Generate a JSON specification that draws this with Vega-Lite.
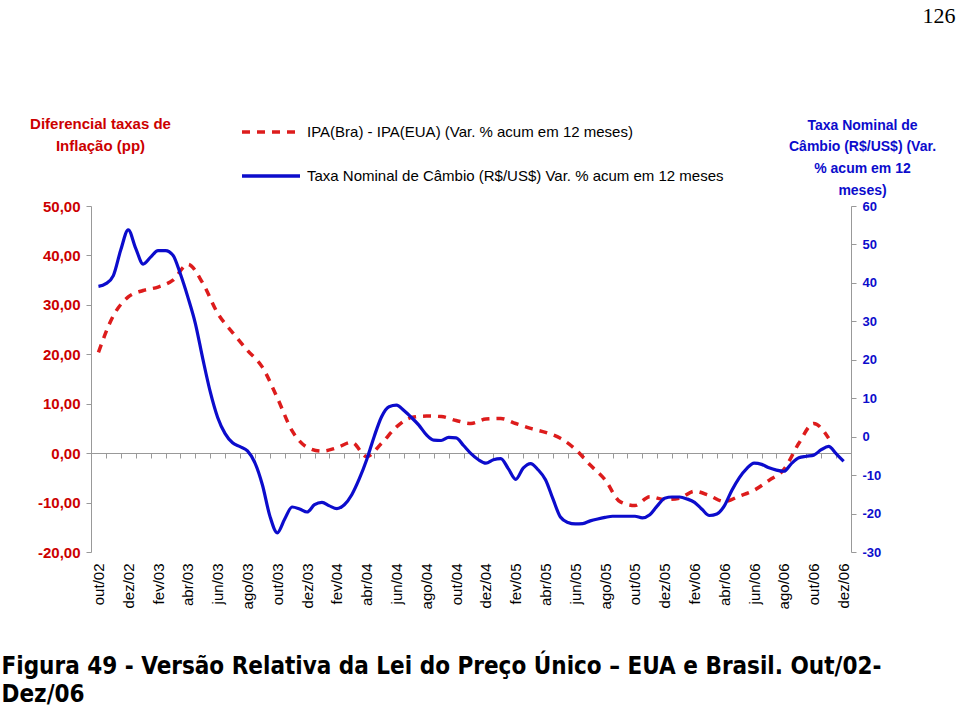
{
  "$schema": "https://vega.github.io/schema/vega-lite/v6.json",
  "width": 760,
  "height": 346,
  "autosize": {"type": "none"},
  "padding": {"left": 91, "top": 206, "right": 109, "bottom": 154},
  "background": "white",
  "config": {"view": {"stroke": null}, "font": "Liberation Sans"},
  "datasets": {
    "ipa": [
      {"t": 0, "valor": 20.4}, {"t": 1, "valor": 27.8}, {"t": 2, "valor": 31.6}, {"t": 3, "valor": 32.9},
      {"t": 4, "valor": 33.6}, {"t": 5, "valor": 35.0}, {"t": 6, "valor": 38.2}, {"t": 7, "valor": 34.4},
      {"t": 8, "valor": 28.3}, {"t": 9, "valor": 24.4}, {"t": 10, "valor": 20.8}, {"t": 11, "valor": 17.4},
      {"t": 12, "valor": 11.2}, {"t": 13, "valor": 4.5}, {"t": 14, "valor": 1.2}, {"t": 15, "valor": 0.4},
      {"t": 16, "valor": 1.1}, {"t": 17, "valor": 2.2}, {"t": 18, "valor": -0.7}, {"t": 19, "valor": 2.0},
      {"t": 20, "valor": 5.3}, {"t": 21, "valor": 7.2}, {"t": 22, "valor": 7.5}, {"t": 23, "valor": 7.4},
      {"t": 24, "valor": 6.6}, {"t": 25, "valor": 6.0}, {"t": 26, "valor": 6.9}, {"t": 27, "valor": 7.0},
      {"t": 28, "valor": 6.0}, {"t": 29, "valor": 5.0}, {"t": 30, "valor": 4.2}, {"t": 31, "valor": 3.0},
      {"t": 32, "valor": 0.8}, {"t": 33, "valor": -2.4}, {"t": 34, "valor": -5.4}, {"t": 35, "valor": -9.8},
      {"t": 36, "valor": -10.6}, {"t": 37, "valor": -8.8}, {"t": 38, "valor": -9.4}, {"t": 39, "valor": -9.1},
      {"t": 40, "valor": -7.7}, {"t": 41, "valor": -8.6}, {"t": 42, "valor": -9.8}, {"t": 43, "valor": -8.7},
      {"t": 44, "valor": -7.5}, {"t": 45, "valor": -5.5}, {"t": 46, "valor": -3.3}, {"t": 47, "valor": 2.0},
      {"t": 48, "valor": 6.0}, {"t": 49, "valor": 3.0}
    ],
    "cambio": [
      {"t": 0, "valor": 39.1}, {"t": 0.5, "valor": 39.8}, {"t": 1, "valor": 41.9}, {"t": 1.5, "valor": 48.6},
      {"t": 2, "valor": 53.8}, {"t": 2.5, "valor": 49.0}, {"t": 3, "valor": 44.9}, {"t": 3.5, "valor": 46.7},
      {"t": 4, "valor": 48.4}, {"t": 4.5, "valor": 48.4}, {"t": 5, "valor": 47.2}, {"t": 5.5, "valor": 42.3},
      {"t": 6, "valor": 36.3}, {"t": 6.5, "valor": 29.5}, {"t": 7, "valor": 20.3}, {"t": 7.5, "valor": 11.7},
      {"t": 8, "valor": 5.0}, {"t": 8.5, "valor": 0.8}, {"t": 9, "valor": -1.6}, {"t": 9.5, "valor": -2.6},
      {"t": 10, "valor": -3.7}, {"t": 10.5, "valor": -6.8}, {"t": 11, "valor": -12.5}, {"t": 11.5, "valor": -20.6},
      {"t": 12, "valor": -25.0}, {"t": 12.5, "valor": -21.4}, {"t": 13, "valor": -18.3}, {"t": 13.5, "valor": -18.8},
      {"t": 14, "valor": -19.6}, {"t": 14.5, "valor": -17.7}, {"t": 15, "valor": -17.1}, {"t": 15.5, "valor": -18.0},
      {"t": 16, "valor": -18.7}, {"t": 16.5, "valor": -17.7}, {"t": 17, "valor": -15.1}, {"t": 17.5, "valor": -11.0},
      {"t": 18, "valor": -6.0}, {"t": 18.5, "valor": 0.0}, {"t": 19, "valor": 5.2}, {"t": 19.5, "valor": 7.8},
      {"t": 20, "valor": 8.2}, {"t": 20.5, "valor": 6.8}, {"t": 21, "valor": 5.0}, {"t": 21.5, "valor": 3.0},
      {"t": 22, "valor": 0.5}, {"t": 22.5, "valor": -0.9}, {"t": 23, "valor": -1.0}, {"t": 23.5, "valor": -0.2},
      {"t": 24, "valor": -0.3}, {"t": 24.5, "valor": -2.3}, {"t": 25, "valor": -4.4}, {"t": 25.5, "valor": -6.0},
      {"t": 26, "valor": -6.9}, {"t": 26.5, "valor": -6.0}, {"t": 27, "valor": -5.7}, {"t": 27.5, "valor": -8.3},
      {"t": 28, "valor": -11.1}, {"t": 28.5, "valor": -8.2}, {"t": 29, "valor": -7.0}, {"t": 29.5, "valor": -8.6},
      {"t": 30, "valor": -11.2}, {"t": 30.5, "valor": -16.2}, {"t": 31, "valor": -20.9}, {"t": 31.5, "valor": -22.3},
      {"t": 32, "valor": -22.7}, {"t": 32.5, "valor": -22.6}, {"t": 33, "valor": -21.9}, {"t": 33.5, "valor": -21.4},
      {"t": 34, "valor": -21.0}, {"t": 34.5, "valor": -20.7}, {"t": 35, "valor": -20.7}, {"t": 35.5, "valor": -20.7},
      {"t": 36, "valor": -20.7}, {"t": 36.5, "valor": -21.1}, {"t": 37, "valor": -20.3}, {"t": 37.5, "valor": -18.0},
      {"t": 38, "valor": -16.0}, {"t": 38.5, "valor": -15.7}, {"t": 39, "valor": -15.7}, {"t": 39.5, "valor": -16.2},
      {"t": 40, "valor": -17.1}, {"t": 40.5, "valor": -18.9}, {"t": 41, "valor": -20.5}, {"t": 41.5, "valor": -20.1},
      {"t": 42, "valor": -18.0}, {"t": 42.5, "valor": -14.0}, {"t": 43, "valor": -10.7}, {"t": 43.5, "valor": -8.3},
      {"t": 44, "valor": -6.9}, {"t": 44.5, "valor": -7.2}, {"t": 45, "valor": -8.1}, {"t": 45.5, "valor": -8.7},
      {"t": 46, "valor": -9.0}, {"t": 46.5, "valor": -7.0}, {"t": 47, "valor": -5.5}, {"t": 47.5, "valor": -5.1},
      {"t": 48, "valor": -4.8}, {"t": 48.5, "valor": -3.4}, {"t": 49, "valor": -2.5}, {"t": 49.5, "valor": -4.4},
      {"t": 50, "valor": -6.4}
    ]
  },
  "layer": [
    {
      "data": {"name": "ipa"},
      "mark": {"type": "line", "interpolate": "monotone", "strokeWidth": 3.5, "strokeDash": [8, 7]},
      "encoding": {
        "x": {
          "field": "t", "type": "quantitative",
          "scale": {"domain": [-0.5, 50.5], "nice": false, "zero": false},
          "axis": {
            "orient": "bottom",
            "values": [0, 2, 4, 6, 8, 10, 12, 14, 16, 18, 20, 22, 24, 26, 28, 30, 32, 34, 36, 38, 40, 42, 44, 46, 48, 50],
            "labelExpr": "['jan','fev','mar','abr','mai','jun','jul','ago','set','out','nov','dez'][(9+datum.value)%12] + '/0' + (2+floor((9+datum.value)/12))",
            "labelAngle": -90,
            "labelFontSize": 15,
            "labelColor": "black",
            "labelPadding": 11,
            "labelFlush": false,
            "labelOverlap": false,
            "domain": false,
            "ticks": false,
            "grid": false,
            "title": ["Figura 49 - Versão Relativa da Lei do Preço Único – EUA e Brasil. Out/02-", "Dez/06"],
            "titleFont": "DejaVu Sans Condensed",
            "titleFontSize": 24,
            "titleFontWeight": "bold",
            "titleColor": "black",
            "titleAngle": 0,
            "titleAlign": "left",
            "titleBaseline": "alphabetic",
            "titleX": -90,
            "titleY": 121,
            "titleLineHeight": 28,
            "titleLimit": 2000
          }
        },
        "y": {
          "field": "valor", "type": "quantitative",
          "scale": {"domain": [-20, 50], "nice": false, "zero": false},
          "axis": {
            "values": [-20, -10, 0, 10, 20, 30, 40, 50],
            "labelExpr": "(datum.value < 0 ? '-' : '') + replace(format(abs(datum.value), '.2f'), '.', ',')",
            "labelColor": "#cc0000",
            "labelFontWeight": "bold",
            "labelFontSize": 15,
            "labelPadding": 6,
            "domainColor": "#999999",
            "tickColor": "#999999",
            "tickSize": 5,
            "grid": false,
            "title": ["Diferencial taxas de", "Inflação (pp)"],
            "titleColor": "#cc0000",
            "titleFontSize": 15,
            "titleFontWeight": "bold",
            "titleAngle": 0,
            "titleAlign": "center",
            "titleBaseline": "alphabetic",
            "titleX": 9,
            "titleY": -78,
            "titleLineHeight": 22
          }
        },
        "color": {
          "datum": "IPA(Bra) - IPA(EUA) (Var. % acum em 12 meses)", "type": "nominal",
          "scale": {
            "domain": ["IPA(Bra) - IPA(EUA) (Var. % acum em 12 meses)", "Taxa Nominal de Câmbio (R$/US$) Var. % acum em 12 meses"],
            "range": ["#dd1c1c", "#0c0ccc"]
          },
          "legend": {
            "orient": "none",
            "legendX": 149,
            "legendY": -105,
            "title": null,
            "direction": "vertical",
            "symbolType": "stroke",
            "symbolSize": 3364,
            "symbolStrokeWidth": 3.5,
            "labelFontSize": 15,
            "labelColor": "black",
            "labelOffset": 5,
            "labelLimit": 800,
            "rowPadding": 5,
            "encode": {
              "symbols": {"update": {"strokeDash": {"signal": "indexof(datum.value, 'IPA') === 0 ? [8, 7] : [1, 0]"}}}
            }
          }
        }
      }
    },
    {
      "data": {"name": "cambio"},
      "mark": {"type": "line", "interpolate": "monotone", "strokeWidth": 3.2},
      "encoding": {
        "x": {
          "field": "t", "type": "quantitative",
          "scale": {"domain": [-0.5, 50.5], "nice": false, "zero": false},
          "axis": {
            "orient": "bottom",
            "offset": -99,
            "values": [-0.5, 0.5, 1.5, 2.5, 3.5, 4.5, 5.5, 6.5, 7.5, 8.5, 9.5, 10.5, 11.5, 12.5, 13.5, 14.5, 15.5, 16.5, 17.5, 18.5, 19.5, 20.5, 21.5, 22.5, 23.5, 24.5, 25.5, 26.5, 27.5, 28.5, 29.5, 30.5, 31.5, 32.5, 33.5, 34.5, 35.5, 36.5, 37.5, 38.5, 39.5, 40.5, 41.5, 42.5, 43.5, 44.5, 45.5, 46.5, 47.5, 48.5, 49.5, 50.5],
            "labels": false,
            "domainColor": "#999999",
            "tickColor": "#999999",
            "tickSize": 5,
            "grid": false,
            "title": "126",
            "titleFont": "Liberation Serif",
            "titleFontSize": 22,
            "titleFontWeight": "normal",
            "titleColor": "black",
            "titleAngle": 0,
            "titleAlign": "right",
            "titleBaseline": "alphabetic",
            "titleX": 864,
            "titleY": -431
          }
        },
        "y": {
          "field": "valor", "type": "quantitative",
          "scale": {"domain": [-30, 60], "nice": false, "zero": false},
          "axis": {
            "orient": "right",
            "values": [-30, -20, -10, 0, 10, 20, 30, 40, 50, 60],
            "labelExpr": "(datum.value < 0 ? '-' : '') + abs(datum.value)",
            "labelColor": "#0c0ccc",
            "labelFontWeight": "bold",
            "labelFontSize": 13,
            "labelPadding": 6,
            "domainColor": "#999999",
            "tickColor": "#999999",
            "tickSize": 5,
            "grid": false,
            "title": ["Taxa Nominal de", "Câmbio (R$/US$) (Var.", "% acum em 12", "meses)"],
            "titleColor": "#0c0ccc",
            "titleFontSize": 14,
            "titleFontWeight": "bold",
            "titleAngle": 0,
            "titleAlign": "center",
            "titleBaseline": "alphabetic",
            "titleX": 11,
            "titleY": -77,
            "titleLineHeight": 21.7
          }
        },
        "color": {"datum": "Taxa Nominal de Câmbio (R$/US$) Var. % acum em 12 meses", "type": "nominal"}
      }
    }
  ],
  "resolve": {"scale": {"y": "independent"}, "axis": {"x": "independent"}}
}
